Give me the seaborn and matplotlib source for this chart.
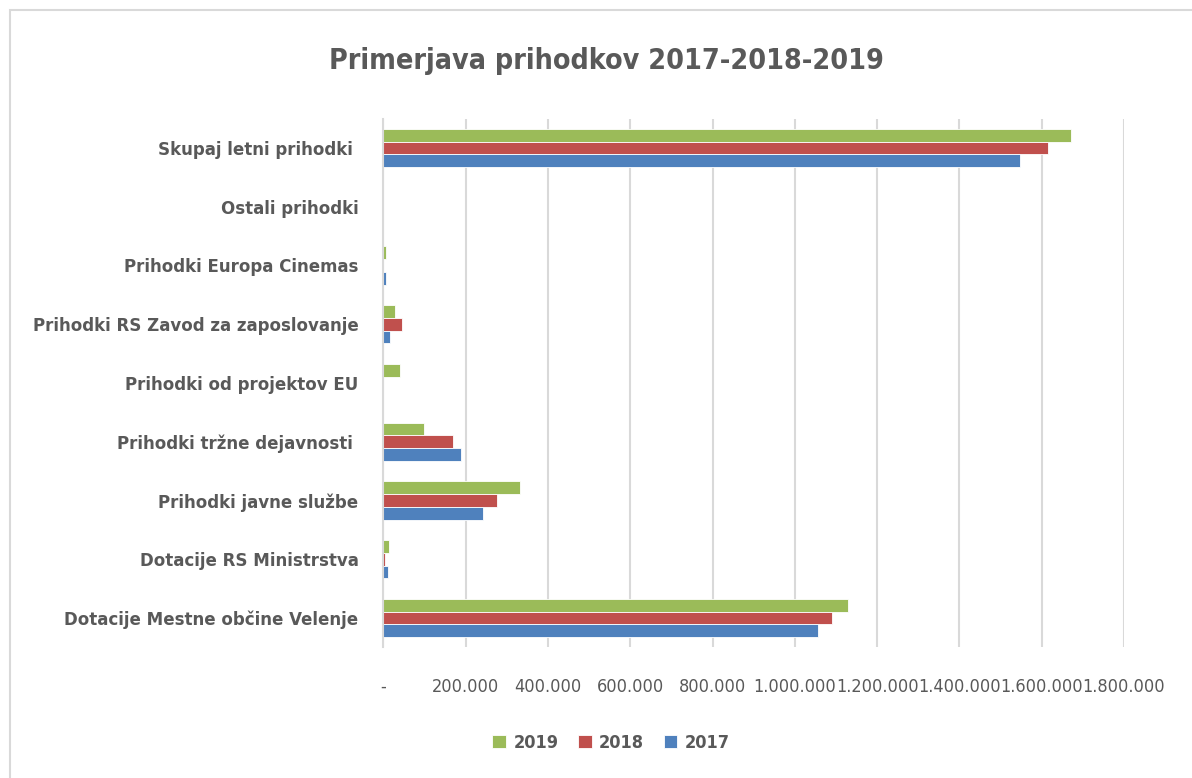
import matplotlib
matplotlib.use("Agg")
import matplotlib.pyplot as plt
import seaborn as sns
import pandas as pd
from matplotlib import font_manager
from matplotlib.font_manager import FontProperties
from matplotlib.patches import Rectangle

categories = [
    "Skupaj letni prihodki ",
    "Ostali prihodki",
    "Prihodki Europa Cinemas",
    "Prihodki RS Zavod za zaposlovanje",
    "Prihodki od projektov EU",
    "Prihodki tržne dejavnosti ",
    "Prihodki javne službe",
    "Dotacije RS Ministrstva",
    "Dotacije Mestne občine Velenje",
]
years = ["2019", "2018", "2017"]
values_2019 = [1672000, 0, 5000, 28000, 41000, 98000, 332000, 14000, 1130000]
values_2018 = [1616000, 0, 0, 45000, 0, 170000, 276000, 4000, 1089000]
values_2017 = [1547000, 0, 5000, 16000, 0, 188000, 241000, 10000, 1057000]
colors = ["#9BBB59", "#C0504D", "#4F81BD"]
tick_values = [0, 200000, 400000, 600000, 800000, 1000000, 1200000, 1400000, 1600000, 1800000]
tick_labels = ["-", "200.000", "400.000", "600.000", "800.000", "1.000.000",
               "1.200.000", "1.400.000", "1.600.000", "1.800.000"]

rows = []
for yr, vals in zip(years, [values_2019, values_2018, values_2017]):
    for c, v in zip(categories, vals):
        rows.append({"cat": c, "year": yr, "value": v})
df = pd.DataFrame(rows)

sns.set_style("white")
plt.rcParams["font.family"] = ["Liberation Sans", "DejaVu Sans"]


def find_font(bold):
    files = [f.fname for f in font_manager.fontManager.ttflist]
    prefs = (["LiberationSansNarrow-Bold", "DejaVuSansCondensed-Bold"] if bold
             else ["LiberationSansNarrow-Regular", "DejaVuSansCondensed."])
    for p in prefs:
        for fn in files:
            if p in fn:
                return fn
    return None


fb = find_font(True)
fr = find_font(False)


def fp(bold, size):
    fn = fb if bold else fr
    if fn:
        return FontProperties(fname=fn, size=size)
    return FontProperties(family="Liberation Sans", weight="bold" if bold else "normal",
                          size=size * 0.88)


txt = "#595959"

fig = plt.figure(figsize=(11.92, 7.78), dpi=100)
W, H = 1192, 778
ax = fig.add_axes([383.5 / W, 1 - 647.4 / H, (1124 - 383.5) / W, (647.4 - 118.6) / H])

sns.barplot(data=df, y="cat", x="value", hue="year", hue_order=years,
            order=categories, palette=colors, orient="h", ax=ax, saturation=1,
            width=0.65, edgecolor="white", linewidth=0.6, legend=True)

ax.set_xlim(0, 1800000)
ax.set_xticks(tick_values)
ax.set_xticklabels(tick_labels)
ax.set_xlabel("")
ax.set_ylabel("")
ax.xaxis.grid(True, color="#D9D9D9", linewidth=1.5)
ax.yaxis.grid(False)
ax.set_axisbelow(True)
for s in ["top", "right", "bottom"]:
    ax.spines[s].set_visible(False)
ax.spines["left"].set_color("#D9D9D9")
ax.spines["left"].set_linewidth(1.5)
ax.tick_params(axis="x", length=5, color="#D9D9D9", width=1.5, pad=17, labelcolor=txt)
ax.tick_params(axis="y", length=0, pad=18, labelcolor=txt)
for lbl in ax.get_xticklabels():
    lbl.set_fontproperties(fp(False, 13))
for lbl in ax.get_yticklabels():
    lbl.set_fontproperties(fp(True, 13.3))

fig.text(606 / W, 1 - 61 / H, "Primerjava prihodkov 2017-2018-2019",
         ha="center", va="center", fontproperties=fp(True, 20.5), color=txt)

handles, labels = ax.get_legend_handles_labels()
ax.get_legend().remove()
fig.legend(handles, labels, loc="center", bbox_to_anchor=(611 / W, 1 - 743 / H),
           ncol=3, frameon=False, handlelength=0.75, handleheight=0.75,
           handletextpad=0.4, columnspacing=1.1, prop=fp(True, 13), labelcolor=txt)

fig.patches.append(Rectangle((10 / W, -0.1), 1.2, 1.1 - 10 / H,
                             transform=fig.transFigure, fill=False,
                             edgecolor="#D9D9D9", linewidth=1.5))

fig.savefig("out.png", dpi=100)
